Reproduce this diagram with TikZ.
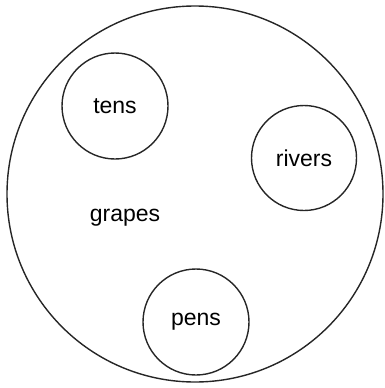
\documentclass[tikz,border=0pt]{standalone}
\usepackage{fontspec}
\setmainfont{Liberation Sans}
\usetikzlibrary{positioning}

\begin{document}
\begin{tikzpicture}[x=1pt, y=-1pt, every node/.style={align=center, font=\fontsize{23}{27}\selectfont},
    setbox/.style={draw=black!85, line width=1.4pt, circle, inner sep=0pt}]
        \useasboundingbox (0,0) rectangle (385,388);
        \node[setbox, minimum size=376pt] (outer) at (195,194) {};
        
        \node[setbox, minimum size=106pt] (tens) at (115,106) {tens};
        
        \node[setbox, minimum size=105pt] (rivers) at (304,158) {rivers};
        
        \node[setbox, minimum size=106pt] (pens) at (196,322) {pens};
        
        \node (grapes) at (125,218) {grapes};
    \end{tikzpicture}
\end{document}
